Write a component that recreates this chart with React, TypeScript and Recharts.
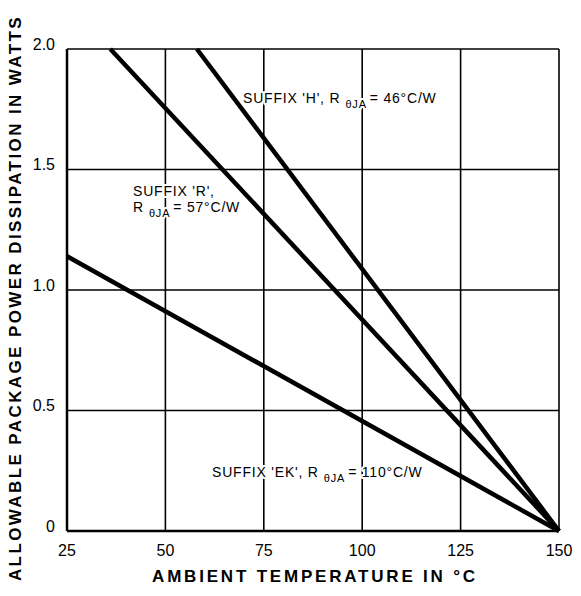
import { CartesianGrid, Line, LineChart, XAxis, YAxis } from "recharts"

// derating lines: temperature (°C) -> power (W)
const suffixH = [
  { t: 58, p: 2.0 },
  { t: 150, p: 0 },
]
const suffixR = [
  { t: 36, p: 2.0 },
  { t: 150, p: 0 },
]
const suffixEK = [
  { t: 25, p: 1.14 },
  { t: 150, p: 0 },
]

const xTicks = [25, 50, 75, 100, 125, 150]
const yTicks = [0, 0.5, 1.0, 1.5, 2.0]

const W = 581
const H = 596
const font = "'Liberation Sans', Arial, Helvetica, sans-serif"

function Sub({ children }: { children: string }) {
  return (
    <tspan fontSize={11} dx={5} dy={5}>
      {children}
    </tspan>
  )
}

export default function App() {
  return (
    <div style={{ position: "absolute", left: 0, top: 0, width: W, height: H, background: "#fff" }}>
      <LineChart width={W} height={H} margin={{ top: 49, right: 22, bottom: 35, left: 0 }}>
        <CartesianGrid stroke="#000" strokeWidth={1.6} horizontalValues={yTicks} verticalValues={xTicks} />
        <XAxis
          type="number"
          dataKey="t"
          domain={[25, 150]}
          ticks={xTicks}
          height={30}
          tickLine={false}
          axisLine={{ stroke: "#000", strokeWidth: 2.5 }}
          tickMargin={8}
          tick={{ fill: "#000", fontSize: 16, fontFamily: font }}
        />
        <YAxis
          type="number"
          dataKey="p"
          domain={[0, 2]}
          ticks={yTicks}
          width={67}
          tickLine={false}
          axisLine={{ stroke: "#000", strokeWidth: 2.5 }}
          tickMargin={6}
          tickFormatter={(v: number) => (v === 0 ? "0" : v.toFixed(1))}
          tick={{ fill: "#000", fontSize: 16, fontFamily: font, dy: -5 }}
        />
        <Line data={suffixH} dataKey="p" stroke="#000" strokeWidth={4.5} dot={false} isAnimationActive={false} />
        <Line data={suffixR} dataKey="p" stroke="#000" strokeWidth={4.5} dot={false} isAnimationActive={false} />
        <Line data={suffixEK} dataKey="p" stroke="#000" strokeWidth={4.5} dot={false} isAnimationActive={false} />
      </LineChart>
      <svg width={W} height={H} style={{ position: "absolute", left: 0, top: 0, pointerEvents: "none" }}>
        {/* white halo breaks the grid lines behind the labels, as in the print */}
        <g
          fontFamily={font}
          fontSize={14}
          fill="#000"
          letterSpacing={0.8}
          stroke="#fff"
          strokeWidth={4}
          paintOrder="stroke"
          strokeLinejoin="round"
        >
          <text x={243} y={103}>
            SUFFIX 'H', R<Sub>θJA</Sub>
            <tspan dx={3} dy={-5}>= 46°C/W</tspan>
          </text>
          <text x={133} y={196}>
            SUFFIX 'R',
          </text>
          <text x={133} y={212}>
            R<Sub>θJA</Sub>
            <tspan dx={3} dy={-5}>= 57°C/W</tspan>
          </text>
          <text x={212} y={477}>
            SUFFIX 'EK', R<Sub>θJA</Sub>
            <tspan dx={3} dy={-5}>= 110°C/W</tspan>
          </text>
        </g>
        <text
          x={315}
          y={582}
          textAnchor="middle"
          fontFamily={font}
          fontSize={17}
          fontWeight="bold"
          letterSpacing={2.8}
          fill="#000"
        >
          AMBIENT TEMPERATURE IN °C
        </text>
        <text
          transform="translate(21,298) rotate(-90)"
          textAnchor="middle"
          fontFamily={font}
          fontSize={17}
          fontWeight="bold"
          letterSpacing={2.4}
          fill="#000"
        >
          ALLOWABLE PACKAGE POWER DISSIPATION IN WATTS
        </text>
      </svg>
    </div>
  )
}
